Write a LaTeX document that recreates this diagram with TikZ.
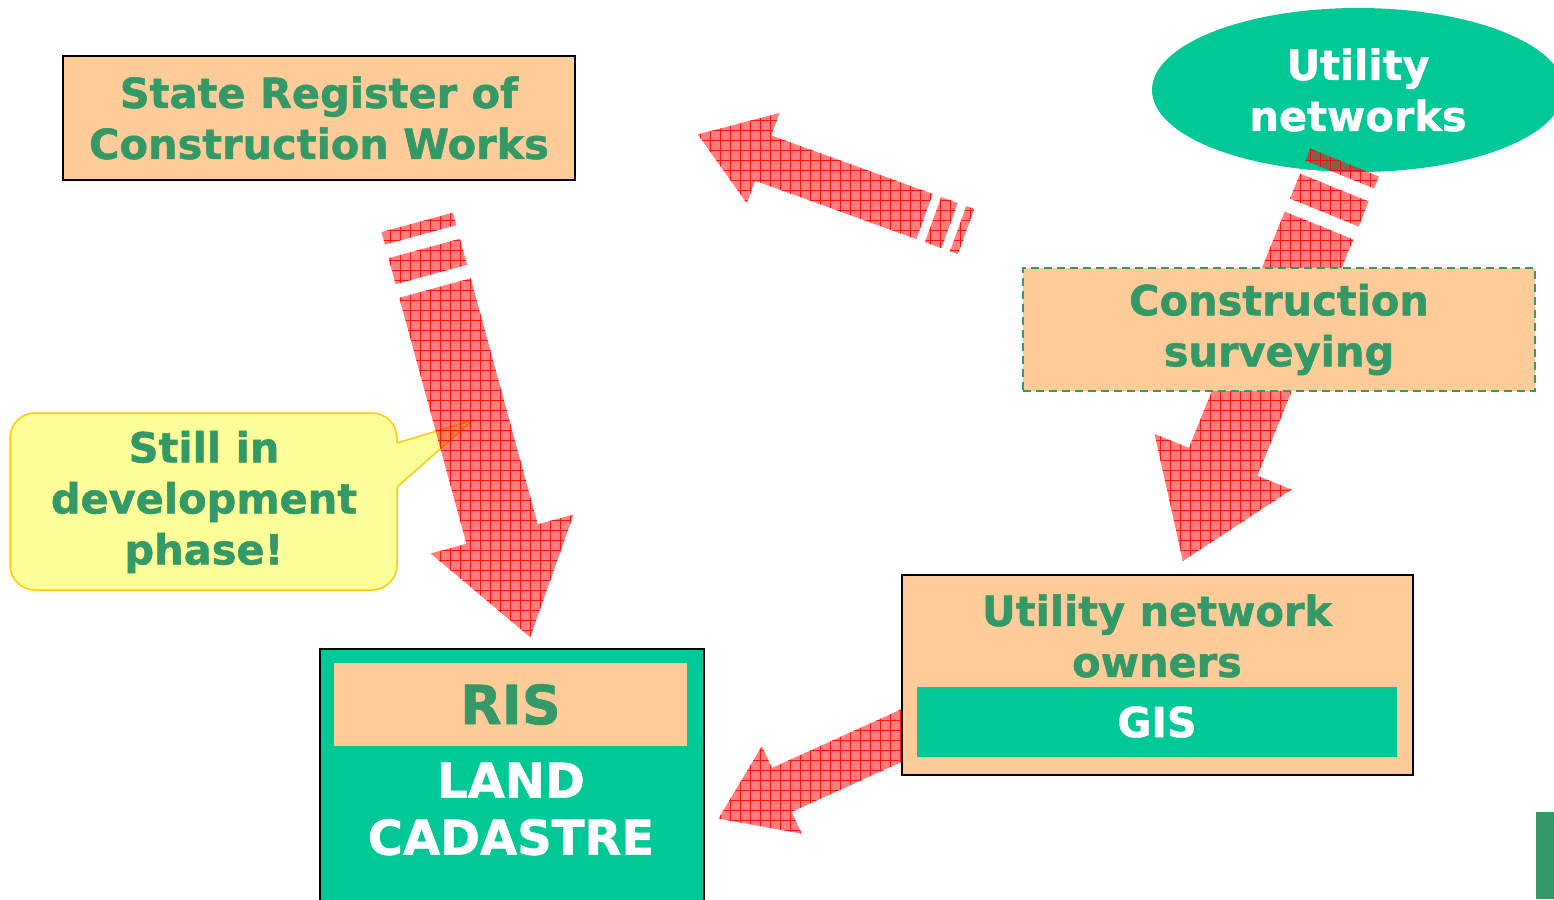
\documentclass[tikz,border=0pt]{standalone}
\usepackage{fontspec}
\setmainfont{DejaVu Sans}[BoldFeatures={FakeBold=1.2}]
\usetikzlibrary{shapes.geometric}
\definecolor{peach}{HTML}{FFCC99}
\definecolor{mygreen}{HTML}{00C896}
\definecolor{txtgreen}{HTML}{339966}
\definecolor{callyellow}{HTML}{FFFF99}
\definecolor{callborder}{HTML}{FFCC00}
\newcommand{\arrowbody}[1]{(-68,-37) rectangle (-55,37) (-41,-37) rectangle (-14,37) (0,-37) -- (#1,-37) -- (#1,-74) -- ({#1+107},0) -- (#1,74) -- (#1,37) -- (0,37) -- cycle}
\newcommand{\stripedarrow}[5]{%
 \begin{scope}[shift={(#1,#2)},rotate=#3,scale=#4]
  \fill[red, fill opacity=0.5] \arrowbody{#5};
  \clip \arrowbody{#5};
  \pgftransformreset
  \draw[red, line width=0.9pt, opacity=0.85, step=10pt] (0pt,-900pt) grid (1560pt,0pt);
 \end{scope}}
\tikzset{
  bigtext/.style={font=\fontsize{41.5}{51}\selectfont\bfseries, align=center},
  peachbox/.style={draw=black, line width=1.5pt, fill=peach, inner sep=0pt},
}
\begin{document}
\begin{tikzpicture}[x=1pt,y=-1pt]
\useasboundingbox (0,0) rectangle (1554,899);
\clip (0,0) rectangle (1554,899);
\fill[white] (0,0) rectangle (1554,899);

% State register box
\node[peachbox, minimum width=512, minimum height=124, text=txtgreen, bigtext] (sr) at (319,118) {State Register of\\Construction Works};

% Utility networks ellipse
\node[ellipse, fill=mygreen, minimum width=412, minimum height=164, inner sep=0pt, text=white, bigtext] (un) at (1358,90) {Utility\\networks};

% callout
\draw[callborder, fill=callyellow, line width=1.5pt, rounded corners=25pt] (10,413) rectangle (397,590);
\fill[callyellow] (392,444.5) -- (473,420) -- (392,491.5) -- cycle;
\draw[callborder, line width=1.5pt, line join=miter] (397,443) -- (473,420) -- (397,487);
\node[bigtext, text=txtgreen] (still) at (204,502) {Still in\\development\\phase!};

% arrows
\stripedarrow{435}{288}{-74.75}{1}{255}
\stripedarrow{1319}{225.5}{-112.1}{1}{255}
\stripedarrow{924.5}{216.5}{160.1}{0.65}{264}
\stripedarrow{932.7}{721.4}{-155.6}{0.65}{255}

% Construction surveying
\node[draw=txtgreen, dash pattern=on 8pt off 5pt, line width=1.5pt, fill=peach, minimum width=512, minimum height=123, inner sep=0pt, text=txtgreen, bigtext] (cs) at (1279,329.5) {Construction\\surveying};

% Utility network owners
\node[peachbox, minimum width=511, minimum height=200] (uno) at (1157.5,675) {};
\node[bigtext, text=txtgreen] (unotxt) at (1157,636) {Utility network\\owners};
\node[fill=mygreen, minimum width=480, minimum height=70, inner sep=0pt, text=white, bigtext] (gis) at (1157,722) {GIS};

% RIS / land cadastre
\node[draw=black, line width=1.5pt, fill=mygreen, minimum width=384, minimum height=262, inner sep=0pt, anchor=north west] (land) at (319,648) {};
\node[fill=peach, minimum width=353, minimum height=83, inner sep=0pt, text=txtgreen, font=\fontsize{54}{60}\selectfont\bfseries] (ris) at (510.5,704.5) {RIS};
\node[text=white, align=center, font=\fontsize{48}{57}\selectfont\bfseries] (cad) at (511,809) {LAND\\CADASTRE};

% green bar
\fill[txtgreen] (1536,812) rectangle (1554,899);
\end{tikzpicture}
\end{document}
